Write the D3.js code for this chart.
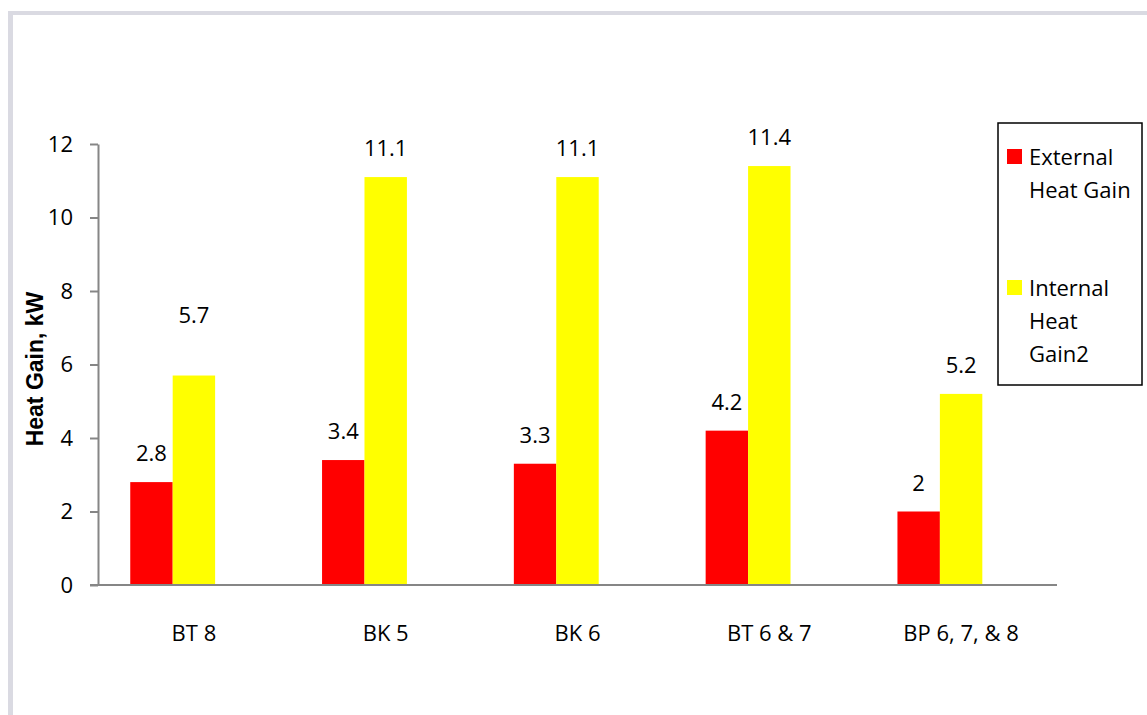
<!DOCTYPE html>
<html>
<head>
<meta charset="utf-8">
<script src="https://cdn.jsdelivr.net/npm/d3@7/dist/d3.min.js"></script>
<style>
  html, body { margin: 0; padding: 0; background: #ffffff; }
  svg { display: block; }
  text { font-family: "Open Sans", sans-serif; fill: #000; }
</style>
</head>
<body>
<svg id="chart" width="1147" height="715"></svg>
<script>
// Heat gain per building block, kW
const categories = ["BT 8", "BK 5", "BK 6", "BT 6 & 7", "BP 6, 7, & 8"];
const seriesNames = ["External Heat Gain", "Internal Heat Gain2"];
const externalGain = [2.8, 3.4, 3.3, 4.2, 2];
const internalGain = [5.7, 11.1, 11.1, 11.4, 5.2];
const yTicks = [0, 2, 4, 6, 8, 10, 12];
const seriesColors = ["#ff0000", "#ffff00"];

const seriesValues = [externalGain, internalGain];

const svg = d3.select("#chart");
const W = 1147, H = 715;

// Outer frame: light grey strips along the top and left edges
svg.append("rect").attr("x", 8).attr("y", 11).attr("width", W - 8).attr("height", 4).attr("fill", "#dadae2");
svg.append("rect").attr("x", 8).attr("y", 11).attr("width", 5).attr("height", H - 11).attr("fill", "#dadae2");

const plot = { left: 98, right: 1057, top: 144, bottom: 585 };

const x = d3.scaleBand().domain(categories).range([plot.left, plot.right]).paddingInner(0).paddingOuter(0);
// three slots per category; the third stays empty, which shifts the pair left of centre
const xInner = d3.scaleBand().domain(["ext", "int", "spare"]).range([0, x.bandwidth()]).paddingInner(0).paddingOuter(0.76);
const slotKeys = ["ext", "int"];
const y = d3.scaleLinear().domain([0, 12]).range([plot.bottom, plot.top]);

const axisColor = "#868686";

// Y axis
const yAxis = d3.axisLeft(y).tickValues(yTicks).tickSize(8).tickSizeOuter(0).tickPadding(17).tickFormat(d3.format("d"));
const gy = svg.append("g").attr("transform", `translate(${plot.left},0)`).call(yAxis);
gy.select(".domain").attr("stroke", axisColor).attr("stroke-width", 2);
gy.selectAll(".tick line").attr("stroke", axisColor).attr("stroke-width", 2);
gy.selectAll(".tick text").style("font-size", "22px").style("font-family", "'Open Sans', sans-serif").attr("fill", "#000");

// Bars
seriesValues.forEach((vals, si) => {
  svg.append("g").selectAll("rect")
    .data(vals.map((v, i) => ({ cat: categories[i], v })))
    .join("rect")
    .attr("x", d => x(d.cat) + xInner(slotKeys[si]))
    .attr("width", xInner.bandwidth())
    .attr("y", d => y(d.v))
    .attr("height", d => y(0) - y(d.v))
    .attr("fill", seriesColors[si]);
});

// X axis line (drawn over the bar bottoms)
const xAxis = d3.axisBottom(x).tickSize(0).tickPadding(40);
const gx = svg.append("g").attr("transform", `translate(0,${plot.bottom})`).call(xAxis);
gx.select(".domain").attr("stroke", axisColor).attr("stroke-width", 2).attr("d", `M${plot.left - 8},0H${plot.right}`);
gx.selectAll(".tick text").style("font-size", "22px").style("font-family", "'Open Sans', sans-serif").attr("fill", "#000");

// Value labels above each bar; the BT 8 internal label sits higher to clear the bar pair
const extraLift = { "1-0": 32 };
seriesValues.forEach((vals, si) => {
  svg.append("g").selectAll("text")
    .data(vals.map((v, i) => ({ cat: categories[i], v, i })))
    .join("text")
    .attr("x", d => x(d.cat) + xInner(slotKeys[si]) + xInner.bandwidth() / 2)
    .attr("y", d => y(d.v) - 21 - (extraLift[`${si}-${d.i}`] || 0))
    .attr("text-anchor", "middle")
    .style("font-size", "22px")
    .text(d => d.v);
});

// Y axis title
svg.append("text")
  .attr("transform", "translate(43,369) rotate(-90)")
  .attr("text-anchor", "middle")
  .style("font-family", "'Liberation Sans', Arial, sans-serif")
  .style("font-weight", "bold")
  .style("font-size", "23px")
  .text("Heat Gain, kW");

// Legend
const legend = svg.append("g");
legend.append("rect").attr("x", 998).attr("y", 123).attr("width", 144).attr("height", 262)
  .attr("fill", "#fff").attr("stroke", "#000").attr("stroke-width", 1.5);
const legendLines = [["External", "Heat Gain"], ["Internal", "Heat", "Gain2"]];
const legendTop = [149, 280];
legendLines.forEach((lines, si) => {
  legend.append("rect").attr("x", 1007).attr("y", legendTop[si]).attr("width", 15).attr("height", 15).attr("fill", seriesColors[si]);
  legend.append("text")
    .attr("x", 1029).attr("y", legendTop[si] + 16)
    .style("font-size", "22px")
    .selectAll("tspan").data(lines).join("tspan")
    .attr("x", 1029).attr("dy", (d, k) => k === 0 ? 0 : 33)
    .text(d => d);
});
</script>
</body>
</html>
